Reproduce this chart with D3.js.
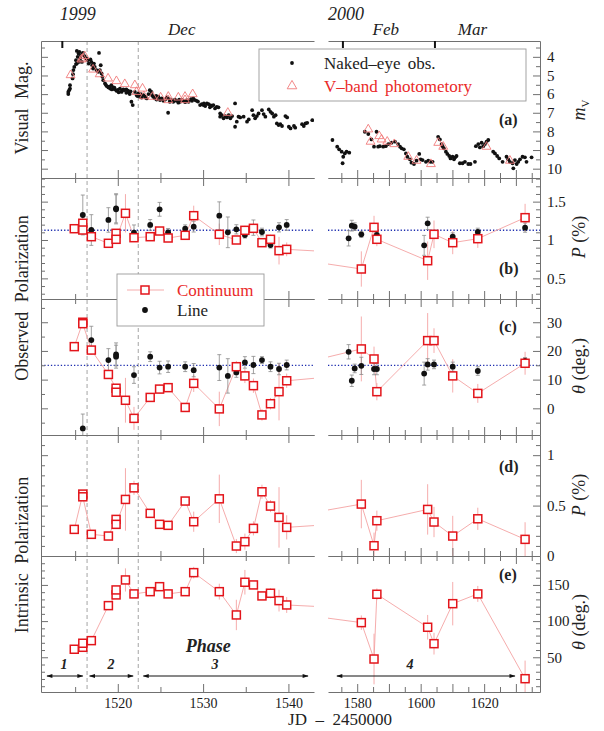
<!DOCTYPE html>
<html>
<head>
<meta charset="utf-8">
<script src="https://cdn.jsdelivr.net/npm/d3@7"></script>
<style>
  body { margin: 0; background: #fff; }
  svg, svg text { font-family: "Liberation Serif", "Times New Roman", Times, serif; }
</style>
</head>
<body>
<svg id="chart" width="604" height="731" font-family="Liberation Serif, serif"></svg>
<script>
// ---------------- data ----------------
// Naked-eye visual estimates [JD-2450000, m_V]
const nakedEye = [
  [1514.2,6.0],[1514.2,5.88],[1514.4,5.70],[1514.4,5.52],[1514.3,5.79],
  [1514.7,5.16],[1514.75,4.93],[1514.8,4.71],[1514.9,4.54],[1515.1,4.39],
  [1515.2,3.68],[1515.5,3.73],[1515.3,4.0],[1515.7,3.91],[1515.9,3.79],[1515.45,4.27],[1515.1,4.18],[1516.3,4.09],[1516.5,4.18],[1516.6,4.36],
  [1515.4,3.82],[1515.6,4.09],[1515.8,4.27],[1516.1,3.96],[1515.2,4.36],
  [1516.8,4.14],[1516.9,4.27],[1517.0,4.45],[1517.1,4.63],[1517.2,4.36],[1517.3,4.54],[1517.5,4.71],[1517.7,4.80],[1517.9,4.71],[1517.8,3.79],[1518.0,4.45],[1518.1,4.89],[1518.2,5.07],
  [1518.3,5.25],[1518.5,5.43],[1518.7,5.57],[1518.9,5.64],[1519.1,5.70],[1519.25,5.52],[1519.45,5.64],
  [1518.6,5.5],[1519.0,5.6],[1519.3,5.75],[1519.6,5.65],[1520.0,5.78],[1520.1,5.9],[1520.5,5.8],[1521.0,5.75],[1521.3,5.9],[1521.5,5.85],
  [1519.65,5.75],[1519.85,5.82],[1520.25,5.70],[1520.45,5.88],[1520.65,5.75],[1520.8,5.79],[1521.0,5.93],[1521.2,5.82],[1521.4,6.0],[1521.75,6.59],[1521.6,6.41],
  [1522.0,5.88],[1522.2,6.05],[1522.4,5.96],[1522.6,6.14],[1522.8,6.18],[1523.0,6.05],[1523.2,6.14],[1523.4,6.23],[1523.6,6.0],[1523.75,5.79],[1523.95,5.88],
  [1522.3,6.1],[1522.7,6.0],[1523.3,6.2],[1524.0,6.05],[1524.5,6.1],[1525.0,6.25],[1526.0,6.25],[1526.6,6.35],[1527.2,6.3],[1528.0,6.38],[1528.6,6.27],[1529.4,6.4],[1530.1,6.5],[1530.9,6.6],
  [1524.15,6.14],[1524.35,6.23],[1524.55,6.29],[1524.75,6.14],[1524.95,6.32],[1525.15,6.23],[1525.35,6.36],[1525.55,6.29],[1525.75,6.18],[1525.9,7.0],[1526.1,6.41],[1526.3,6.32],
  [1526.5,6.41],[1526.7,6.29],[1526.9,6.36],[1527.1,6.46],[1527.3,6.41],[1527.5,6.29],[1527.7,6.36],[1527.9,6.43],[1528.1,6.32],[1528.3,6.41],[1528.5,6.29],[1528.7,6.36],[1528.85,6.23],[1529.05,6.32],[1529.25,6.36],
  [1529.65,6.59],[1529.85,6.54],[1530.05,6.59],[1530.25,6.64],[1530.45,6.5],[1530.65,6.54],[1530.8,6.71],[1531.0,6.64],[1531.2,6.59],[1531.4,6.77],[1531.6,6.68],[1531.8,6.71],[1532.0,7.04],
  [1532.0,7.21],[1532.2,7.13],[1532.4,7.30],[1532.6,7.18],[1532.8,7.25],[1533.0,7.13],[1533.2,7.30],[1533.4,7.18],[1533.75,6.5],[1533.75,7.75],[1533.95,7.48],[1534.15,7.21],[1534.35,7.25],
  [1534.75,7.21],[1535.15,7.48],[1535.35,7.36],[1535.75,6.86],[1535.9,7.13],[1536.1,7.30],[1536.3,7.18],[1536.5,7.04],[1536.9,6.86],[1537.1,7.07],[1537.3,7.21],
  [1537.7,6.82],[1537.9,6.95],[1538.1,7.04],[1538.3,7.21],[1538.5,7.13],[1538.65,7.57],[1538.85,7.66],[1539.05,7.61],[1539.25,7.71],[1539.65,7.18],[1539.85,7.25],[1540.05,7.75],[1540.25,7.84],[1540.65,7.71],[1540.8,7.80],[1541.6,7.61],[1541.8,7.71],[1542.0,7.57],[1542.2,7.54],[1542.8,7.4],
  [1572.2,8.46],[1573.7,8.82],[1574.3,8.96],[1575.1,9.09],[1575.6,9.36],[1575.4,9.71],[1576.1,9.18],[1576.65,9.09],[1577.5,9.14],
  [1582.4,8.02],[1583.5,8.14],[1584.5,8.43],[1585.3,8.82],[1586.1,8.02],[1586.6,8.82],[1587.15,8.79],[1588.2,8.82],[1589.0,8.79],[1589.8,8.68],[1590.8,8.61],[1591.9,8.55],[1592.9,8.68],[1593.5,8.82],[1594.0,8.91],[1594.7,8.96],[1595.35,9.18],[1595.8,9.36],[1596.6,9.5],[1597.1,9.68],[1597.9,9.75],[1598.7,9.57],[1599.55,9.21],[1600.0,9.5],[1600.6,9.54],[1601.65,9.63],[1602.4,9.57],[1603.1,9.63],[1603.75,9.63],
  [1605.5,8.29],[1606.05,8.43],[1606.6,8.68],[1606.9,8.79],[1607.3,8.91],[1607.95,9.09],[1608.4,9.21],[1609.0,9.32],[1609.4,9.45],[1610.05,9.36],[1610.5,9.5],[1610.9,9.39],[1611.3,9.32],[1612.35,9.71],[1613.2,9.71],[1613.95,9.63],[1615.0,9.75],[1615.7,9.75],[1617.1,9.63],
  [1617.4,8.79],[1618.15,8.68],[1618.65,8.86],[1619.2,8.61],[1619.7,8.79],[1620.25,8.68],[1620.75,8.55],[1621.3,8.46],[1622.85,9.09],[1623.4,9.18],[1624.1,9.32],[1624.75,9.45],[1625.8,9.63],[1627.05,9.36],[1627.6,9.5],[1628.1,9.63],[1628.95,9.71],[1629.2,9.98],[1629.7,9.54],[1630.25,9.75],[1630.75,9.63],[1631.3,9.5],[1632.1,9.36],[1632.85,9.39],[1633.35,9.63],[1634.95,9.39]
];

// V-band photometry [JD-2450000, V]
const vBand = [
  [1514.47,4.98],[1515.92,4.09],[1516.12,3.96],[1515.73,4.14],[1517.1,4.68],[1517.88,4.93],[1518.86,5.16],[1519.84,5.30],
  [1520.82,5.46],[1522.0,5.52],[1522.9,5.70],[1522.2,5.88],[1523.06,6.11],[1524.08,6.14],[1525.02,6.18],[1525.92,6.32],
  [1525.92,6.14],[1527.1,6.18],[1527.88,6.14],[1528.78,6.0],[1527.88,6.32],[1532.9,7.0],
  [1583.48,7.89],[1584.21,8.55],[1586.94,8.25],[1587.68,8.43],[1589.46,8.55],[1591.67,8.68],[1596.08,9.36],[1598.71,9.57],
  [1603.23,9.75],[1605.53,8.61],[1607.11,8.82],[1620.76,8.82],[1628.12,9.57]
];

// Continuum polarization epochs
const contJD = [1514.9,1515.9,1515.9,1516.9,1518.9,1519.8,1519.8,1520.9,1521.9,1523.8,1524.9,1525.9,1527.9,1528.9,1531.9,1533.9,1534.9,1535.9,1536.9,1537.9,1538.9,1539.8,
                1581.3,1585.3,1586.2,1602.2,1604.2,1610.1,1618.0,1632.9];
const contPobs = [1.147,1.218,1.130,1.043,0.957,1.087,1.009,1.348,1.030,1.043,1.117,1.026,1.061,1.317,1.074,1.000,1.126,1.152,0.965,1.009,0.861,0.878,
                  0.622,1.165,1.009,0.730,1.074,0.965,1.017,1.291];
const contPobsErr = [0.03,0.05,0.05,0.06,0.04,0.05,0.05,0.25,0.05,0.05,0.04,0.04,0.04,0.13,0.14,0.05,0.06,0.07,0.05,0.06,0.18,0.09,
                     0.23,0.15,0.09,0.25,0.18,0.15,0.12,0.18];
const contThObs = [21.5,30.0,29.5,20.3,11.8,7.0,5.6,2.8,-3.5,3.8,6.7,7.2,0.3,8.7,-0.2,14.5,11.3,7.9,-2.3,1.6,5.8,9.6,
                   20.7,17.2,5.8,23.6,23.6,11.3,5.2,15.7];
const contThObsErr = [1,1.2,1.2,1.5,1.5,1.5,1.5,7.8,4,1.5,1.5,1.5,1.5,3,6,2,2.5,2.5,2,2,10,2.5,
                      11.3,4.3,3,9.6,4.3,5.8,3.3,4];
const contPint = [0.264,0.614,0.587,0.215,0.198,0.363,0.314,0.561,0.676,0.423,0.314,0.304,0.545,0.340,0.567,0.099,0.142,0.274,0.637,0.495,0.383,0.284,
                  0.515,0.102,0.350,0.462,0.337,0.198,0.369,0.165];
const contPintErr = [0.02,0.03,0.03,0.02,0.02,0.03,0.03,0.31,0.07,0.03,0.02,0.02,0.03,0.1,0.24,0.07,0.08,0.07,0.07,0.06,0.3,0.12,
                     0.24,0.13,0.1,0.25,0.15,0.2,0.11,0.17];
const contThInt = [61.1,63.8,69.4,73.0,121.4,136.2,143.1,156.9,137.6,140.7,147.6,137.6,140.7,167.0,140.7,108.5,153.7,150.0,134.8,138.5,128.3,122.3,
                   97.9,47.6,137.1,91.5,68.8,124.1,137.6,20.4];
const contThIntErr = [3,3,3,3,4,4,4,16,4,3,3,3,3,8,11,21,17,5,5,7,15,11,
                      10,35,8,17,15,30,11,25];

// Emission-line polarization epochs
const lineJD = [1515.9,1516.9,1518.9,1519.8,1519.8,1521.9,1523.8,1524.9,1525.9,1527.9,1528.9,1531.9,1532.9,1533.9,1534.9,1535.9,1536.9,1537.9,1538.9,1539.8,
                1577.3,1578.3,1579.2,1581.3,1585.3,1586.2,1601.1,1602.2,1604.2,1610.1,1618.0,1632.9];
const linePobs = [1.326,1.130,1.261,1.413,1.40,1.096,1.196,1.400,1.100,1.147,1.174,1.317,1.100,1.139,1.065,1.161,1.104,0.935,1.165,1.196,
                  1.022,1.187,1.174,1.074,1.165,1.065,0.930,1.217,1.087,1.043,1.104,1.161];
const linePobsErr = [0.26,0.2,0.16,0.19,0.19,0.1,0.07,0.09,0.05,0.05,0.07,0.18,0.2,0.06,0.04,0.1,0.05,0.04,0.06,0.07,
                     0.1,0.07,0.05,0.04,0.05,0.04,0.13,0.08,0.04,0.05,0.05,0.06];
const lineThObs = [-7.0,23.8,16.8,18.8,18.0,11.6,18.0,14.2,14.5,14.5,13.3,14.2,11.3,12.5,16.0,15.1,16.8,14.5,13.7,15.1,
                   19.7,9.6,13.9,14.8,13.7,13.7,12.1,15.3,15.3,14.5,13.0,16.5];
const lineThObsErr = [5,4.8,4,4,4,2.9,1.7,2.2,2,1.7,2.3,4.5,6,1.7,2,3,1.2,1.7,2,1.7,
                      2.5,2,1.5,3,2,2,4,2,1.5,1.6,1.5,1.2];

// Interstellar reference levels
const refP = 1.127;
const refTheta = 15;

// Phase boundaries and phase spans
const phaseBounds = [1516.4, 1522.4];
const phaseSpans = [
  {label: '1', from: 1511.7, to: 1515.9, at: 1513.7},
  {label: '2', from: 1516.7, to: 1521.8, at: 1519.2},
  {label: '3', from: 1523.0, to: 1542.3, at: 1531.4},
  {label: '4', from: 1573.6, to: 1629.7, at: 1596.6}
];
const monthStarts = [1513.5, 1575.5, 1604.5];
const monthLabels = [{text: 'Dec', jd: 1527.5}, {text: 'Feb', jd: 1589.0}, {text: 'Mar', jd: 1616.3}];
const yearLabels = [{text: '1999', jd: 1513.2}, {text: '2000', jd: 1570.8}];

// Axis ticks
const xTicksLeftMajor = [1520, 1530, 1540];
const xTicksLeftMinor = [1515, 1525, 1535];
const xTicksRightMajor = [1580, 1590, 1600, 1610, 1620, 1630];
const xTicksRightMinor = [1575, 1585, 1595, 1605, 1615, 1625, 1635];
const xLabelsLeft = [1520, 1530, 1540];
const xLabelsRight = [1580, 1600, 1620];

const magTicks = [4, 5, 6, 7, 8, 9, 10];
const magMinor = [3.5, 4.5, 5.5, 6.5, 7.5, 8.5, 9.5, 10.5];
const pObsTicks = [0.5, 1, 1.5];
const pObsMinor = [0.3, 0.4, 0.6, 0.7, 0.8, 0.9, 1.1, 1.2, 1.3, 1.4, 1.6, 1.7, 1.8];
const thObsTicks = [0, 10, 20, 30];
const thObsMinor = [-5, 5, 15, 25, 35];
const pIntTicks = [0, 0.5, 1];
const pIntMinor = [0.1, 0.2, 0.3, 0.4, 0.6, 0.7, 0.8, 0.9, 1.1];
const thIntTicks = [50, 100, 150];
const thIntMinor = [10, 20, 30, 40, 60, 70, 80, 90, 110, 120, 130, 140, 160, 170, 180];

// ---------------- drawing ----------------
const SERIF = 'Liberation Serif, Times New Roman, serif';
const FRAME = '#707070';
const RED = '#e3151b';
const PINK = '#f4a3a3';
const svg = d3.select('#chart');
const defs = svg.append('defs');

const xLeft = d3.scaleLinear().domain([1511, 1543]).range([41, 314]);
const xRight = d3.scaleLinear().domain([1570.8, 1637.6]).range([328, 540]);
const parts = [
  {key: 'L', x: xLeft, major: xTicksLeftMajor, minor: xTicksLeftMinor, labels: xLabelsLeft},
  {key: 'R', x: xRight, major: xTicksRightMajor, minor: xTicksRightMinor, labels: xLabelsRight}
];

const zip = (jd, v, e) => jd.map((d, i) => ({jd: d, v: v[i], e: e ? e[i] : 0}));

const panels = [
  {key: 'a', top: 41, bottom: 178, domain: [3.15, 10.5], flip: true, major: magTicks, minor: magMinor, tag: '(a)', tagY: 125},
  {key: 'b', top: 178, bottom: 299, domain: [0.231, 1.808], major: pObsTicks, minor: pObsMinor, tag: '(b)', tagY: 274,
   ref: refP, cont: zip(contJD, contPobs, contPobsErr), line: zip(lineJD, linePobs, linePobsErr)},
  {key: 'c', top: 299, bottom: 435, domain: [-9.3, 38.1], major: thObsTicks, minor: thObsMinor, tag: '(c)', tagY: 332,
   ref: refTheta, cont: zip(contJD, contThObs, contThObsErr), line: zip(lineJD, lineThObs, lineThObsErr)},
  {key: 'd', top: 435, bottom: 556, domain: [0, 1.2], major: pIntTicks, minor: pIntMinor, tag: '(d)', tagY: 472,
   cont: zip(contJD, contPint, contPintErr)},
  {key: 'e', top: 556, bottom: 692, domain: [2, 190], major: thIntTicks, minor: thIntMinor, tag: '(e)', tagY: 580,
   cont: zip(contJD, contThInt, contThIntErr)}
];
panels.forEach(p => {
  p.y = d3.scaleLinear().domain(p.domain).range(p.flip ? [p.top, p.bottom] : [p.bottom, p.top]);
});

function styleAxis(g, removeDomain) {
  g.attr('font-family', SERIF).attr('font-size', null);
  if (removeDomain) g.select('.domain').remove();
  g.select('.domain').attr('stroke', FRAME);
  g.selectAll('.tick line').attr('stroke', FRAME);
  g.selectAll('.tick text').attr('fill', '#1a1a1a').attr('font-family', SERIF).attr('font-size', 15);
}

// phase boundary lines (behind everything else)
svg.append('g').selectAll('line').data(phaseBounds).join('line')
  .attr('x1', d => xLeft(d)).attr('x2', d => xLeft(d))
  .attr('y1', panels[0].top).attr('y2', panels[4].bottom)
  .attr('stroke', '#9a9a9a').attr('stroke-width', 0.9).attr('stroke-dasharray', '4,3');

panels.forEach(p => {
  parts.forEach(pt => {
    const [x0, x1] = pt.x.range();
    const cid = `clip-${p.key}${pt.key}`;
    defs.append('clipPath').attr('id', cid).append('rect')
      .attr('x', x0).attr('y', p.top).attr('width', x1 - x0).attr('height', p.bottom - p.top);
    const g = svg.append('g').attr('clip-path', `url(#${cid})`);
    const x = pt.x, y = p.y;

    if (p.key === 'a') {
      g.selectAll('circle').data(nakedEye).join('circle')
        .attr('cx', d => x(d[0])).attr('cy', d => y(d[1])).attr('r', 1.9).attr('fill', '#111');
      const tri = d3.symbol(d3.symbolTriangle, 34)();
      g.selectAll('path.v').data(vBand).join('path').attr('class', 'v')
        .attr('d', tri).attr('transform', d => `translate(${x(d[0])},${y(d[1])})`)
        .attr('fill', 'none').attr('stroke', '#f07a7a').attr('stroke-width', 0.9);
      return;
    }

    if (p.ref !== undefined) {
      g.append('line').attr('x1', x0).attr('x2', x1).attr('y1', y(p.ref)).attr('y2', y(p.ref))
        .attr('stroke', '#1f2fb0').attr('stroke-width', 1.3).attr('stroke-dasharray', '1.3,2');
    }
    // continuum error bars and connecting line
    g.selectAll('line.ce').data(p.cont).join('line').attr('class', 'ce')
      .attr('x1', d => x(d.jd)).attr('x2', d => x(d.jd))
      .attr('y1', d => y(d.v - d.e)).attr('y2', d => y(d.v + d.e))
      .attr('stroke', PINK).attr('stroke-width', 0.9);
    g.append('path').datum(p.cont)
      .attr('d', d3.line().x(d => x(d.jd)).y(d => y(d.v)))
      .attr('fill', 'none').attr('stroke', PINK).attr('stroke-width', 0.9);
    // emission line points
    if (p.line) {
      const le = g.selectAll('g.le').data(p.line).join('g').attr('class', 'le');
      le.append('line')
        .attr('x1', d => x(d.jd)).attr('x2', d => x(d.jd))
        .attr('y1', d => y(d.v - d.e)).attr('y2', d => y(d.v + d.e))
        .attr('stroke', '#8a8a8a').attr('stroke-width', 0.8);
      [-1, 1].forEach(s => {
        le.append('line')
          .attr('x1', d => x(d.jd) - 2).attr('x2', d => x(d.jd) + 2)
          .attr('y1', d => y(d.v + s * d.e)).attr('y2', d => y(d.v + s * d.e))
          .attr('stroke', '#8a8a8a').attr('stroke-width', 0.8);
      });
      g.selectAll('circle.ld').data(p.line).join('circle').attr('class', 'ld')
        .attr('cx', d => x(d.jd)).attr('cy', d => y(d.v)).attr('r', 2.9).attr('fill', '#111');
    }
    // continuum squares
    g.selectAll('rect.cs').data(p.cont).join('rect').attr('class', 'cs')
      .attr('x', d => x(d.jd) - 4).attr('y', d => y(d.v) - 4).attr('width', 8).attr('height', 8)
      .attr('fill', '#fff').attr('stroke', RED).attr('stroke-width', 1.5);
  });
});

// frames and axes
panels.forEach(p => {
  const y = p.y;
  const gl = svg.append('g').attr('transform', `translate(${xLeft.range()[0]},0)`);
  gl.call(d3.axisLeft(y).tickValues(p.major).tickSize(-7).tickSizeOuter(0).tickFormat(''));
  styleAxis(gl, false);
  const glm = svg.append('g').attr('transform', `translate(${xLeft.range()[0]},0)`);
  glm.call(d3.axisLeft(y).tickValues(p.minor).tickSize(-4).tickSizeOuter(0).tickFormat(''));
  styleAxis(glm, true);

  const gr = svg.append('g').attr('transform', `translate(${xRight.range()[1]},0)`);
  gr.call(d3.axisRight(y).tickValues(p.major).tickSize(-7).tickSizeOuter(0).tickPadding(7).tickFormat(d => String(d)));
  styleAxis(gr, false);
  const grm = svg.append('g').attr('transform', `translate(${xRight.range()[1]},0)`);
  grm.call(d3.axisRight(y).tickValues(p.minor).tickSize(-4).tickSizeOuter(0).tickFormat(''));
  styleAxis(grm, true);

  parts.forEach(pt => {
    const gb = svg.append('g').attr('transform', `translate(0,${p.bottom})`);
    gb.call(d3.axisBottom(pt.x).tickValues(pt.major).tickSize(-8).tickSizeOuter(0).tickFormat(''));
    styleAxis(gb, false);
    const gbm = svg.append('g').attr('transform', `translate(0,${p.bottom})`);
    gbm.call(d3.axisBottom(pt.x).tickValues(pt.minor).tickSize(-5).tickSizeOuter(0).tickFormat(''));
    styleAxis(gbm, true);

    const gt = svg.append('g').attr('transform', `translate(0,${p.top})`);
    if (p.key === 'a') {
      gt.call(d3.axisTop(pt.x).tickValues([]).tickSizeOuter(0));
      styleAxis(gt, false);
    } else {
      gt.call(d3.axisTop(pt.x).tickValues(pt.major).tickSize(-8).tickSizeOuter(0).tickFormat(''));
      styleAxis(gt, false);
      const gtm = svg.append('g').attr('transform', `translate(0,${p.top})`);
      gtm.call(d3.axisTop(pt.x).tickValues(pt.minor).tickSize(-5).tickSizeOuter(0).tickFormat(''));
      styleAxis(gtm, true);
    }
    if (p.key === 'e') {
      const gx = svg.append('g').attr('transform', `translate(0,${p.bottom})`);
      gx.call(d3.axisBottom(pt.x).tickValues(pt.labels).tickSize(0).tickPadding(6).tickFormat(d3.format('d')));
      styleAxis(gx, true);
      gx.selectAll('.tick text').attr('font-size', 14);
    }
  });

  svg.append('text').attr('x', 499).attr('y', p.tagY).text(p.tag)
    .attr('font-family', SERIF).attr('font-size', 16).attr('font-weight', 'bold').attr('fill', '#222');
});

// month starts on top of panel (a)
const xOf = jd => (jd < 1560 ? xLeft(jd) : xRight(jd));
svg.append('g').selectAll('line').data(monthStarts).join('line')
  .attr('x1', d => xOf(d)).attr('x2', d => xOf(d))
  .attr('y1', panels[0].top).attr('y2', panels[0].top + 7)
  .attr('stroke', '#111').attr('stroke-width', 2);
svg.append('g').selectAll('text').data(monthLabels).join('text')
  .attr('x', d => xOf(d.jd)).attr('y', 35).attr('text-anchor', 'middle')
  .attr('font-family', SERIF).attr('font-size', 17).attr('font-style', 'italic').attr('fill', '#222').text(d => d.text);
svg.append('g').selectAll('text').data(yearLabels).join('text')
  .attr('x', d => xOf(d.jd)).attr('y', 20)
  .attr('font-family', SERIF).attr('font-size', 18).attr('font-style', 'italic').attr('fill', '#222').text(d => d.text);

// phase arrows
const mk = defs.append('marker').attr('id', 'arrowhead').attr('viewBox', '0 0 10 10')
  .attr('refX', 9).attr('refY', 5).attr('markerWidth', 9).attr('markerHeight', 6)
  .attr('orient', 'auto-start-reverse').attr('markerUnits', 'userSpaceOnUse');
mk.append('path').attr('d', 'M0,1.5 L10,5 L0,8.5 Z').attr('fill', '#111');
const arrowY = 676;
svg.append('g').selectAll('line').data(phaseSpans).join('line')
  .attr('x1', d => xOf(d.from)).attr('x2', d => xOf(d.to))
  .attr('y1', arrowY).attr('y2', arrowY)
  .attr('stroke', '#111').attr('stroke-width', 1)
  .attr('marker-start', 'url(#arrowhead)').attr('marker-end', 'url(#arrowhead)');
svg.append('g').selectAll('text').data(phaseSpans).join('text')
  .attr('x', d => xOf(d.at)).attr('y', 669).attr('text-anchor', 'middle')
  .attr('font-family', SERIF).attr('font-size', 14).attr('font-style', 'italic').attr('font-weight', 'bold').attr('fill', '#222')
  .text(d => d.label);
svg.append('text').attr('x', xLeft(1530.6)).attr('y', 652).attr('text-anchor', 'middle')
  .attr('font-family', SERIF).attr('font-size', 18).attr('font-style', 'italic').attr('font-weight', 'bold').attr('fill', '#222')
  .text('Phase');

// legend for panel (a)
const lgA = svg.append('g').attr('font-family', SERIF);
lgA.append('rect').attr('x', 259).attr('y', 49).attr('width', 267).attr('height', 52)
  .attr('fill', '#fff').attr('stroke', '#9a9a9a').attr('stroke-width', 0.9);
lgA.append('circle').attr('cx', 292).attr('cy', 63).attr('r', 1.9).attr('fill', '#111');
lgA.append('path').attr('d', d3.symbol(d3.symbolTriangle, 40)()).attr('transform', 'translate(292,86)')
  .attr('fill', 'none').attr('stroke', '#f07a7a').attr('stroke-width', 0.9);
lgA.append('text').attr('x', 324).attr('y', 69).attr('font-size', 17).attr('word-spacing', 3)
  .attr('fill', '#222').text('Naked\u2013eye obs.');
lgA.append('text').attr('x', 324).attr('y', 92).attr('font-size', 17).attr('word-spacing', 3)
  .attr('fill', '#ea2a2a').text('V\u2013band photometory');

// legend for panels (b)-(c)
const lgB = svg.append('g').attr('font-family', SERIF);
lgB.append('rect').attr('x', 117).attr('y', 274).attr('width', 147).attr('height', 52)
  .attr('fill', '#fff').attr('stroke', '#9a9a9a').attr('stroke-width', 0.9);
lgB.append('line').attr('x1', 127).attr('x2', 164).attr('y1', 290).attr('y2', 290)
  .attr('stroke', PINK).attr('stroke-width', 0.9);
lgB.append('rect').attr('x', 141).attr('y', 286).attr('width', 8).attr('height', 8)
  .attr('fill', '#fff').attr('stroke', RED).attr('stroke-width', 1.5);
lgB.append('circle').attr('cx', 145).attr('cy', 310).attr('r', 2.9).attr('fill', '#111');
lgB.append('text').attr('x', 177).attr('y', 296).attr('font-size', 17).attr('fill', '#ea2a2a').text('Continuum');
lgB.append('text').attr('x', 177).attr('y', 316).attr('font-size', 17).attr('fill', '#222').text('Line');

// left titles
const leftTitles = [
  {text: 'Visual Mag.', y: 108},
  {text: 'Observed Polarization', y: 298},
  {text: 'Intrinsic Polarization', y: 555}
];
svg.append('g').selectAll('text').data(leftTitles).join('text')
  .attr('transform', d => `translate(22,${d.y}) rotate(-90)`)
  .attr('text-anchor', 'middle').attr('dy', '0.35em')
  .attr('font-family', SERIF).attr('font-size', 18).attr('word-spacing', 5).attr('fill', '#222').text(d => d.text);

// right titles
function rightTitle(cy, build) {
  const t = svg.append('text').attr('transform', `translate(579,${cy}) rotate(-90)`)
    .attr('text-anchor', 'middle').attr('dy', '0.35em')
    .attr('font-family', SERIF).attr('font-size', 18).attr('fill', '#222');
  build(t);
}
rightTitle(110, t => {
  t.append('tspan').attr('font-style', 'italic').text('m');
  t.append('tspan').attr('font-size', 11).attr('dy', 4).text('V');
});
[237, 495].forEach(cy => rightTitle(cy, t => {
  t.append('tspan').attr('font-style', 'italic').text('P');
  t.append('tspan').text(' (%)');
}));
[366, 622].forEach(cy => rightTitle(cy, t => {
  t.append('tspan').attr('font-style', 'italic').text('\u03b8');
  t.append('tspan').text(' (deg.)');
}));

// x-axis title
svg.append('text').attr('x', 340).attr('y', 725).attr('text-anchor', 'middle')
  .attr('font-family', SERIF).attr('font-size', 17).attr('fill', '#222').style('white-space', 'pre')
  .text('JD  \u2013  2450000');
</script>
</body>
</html>
